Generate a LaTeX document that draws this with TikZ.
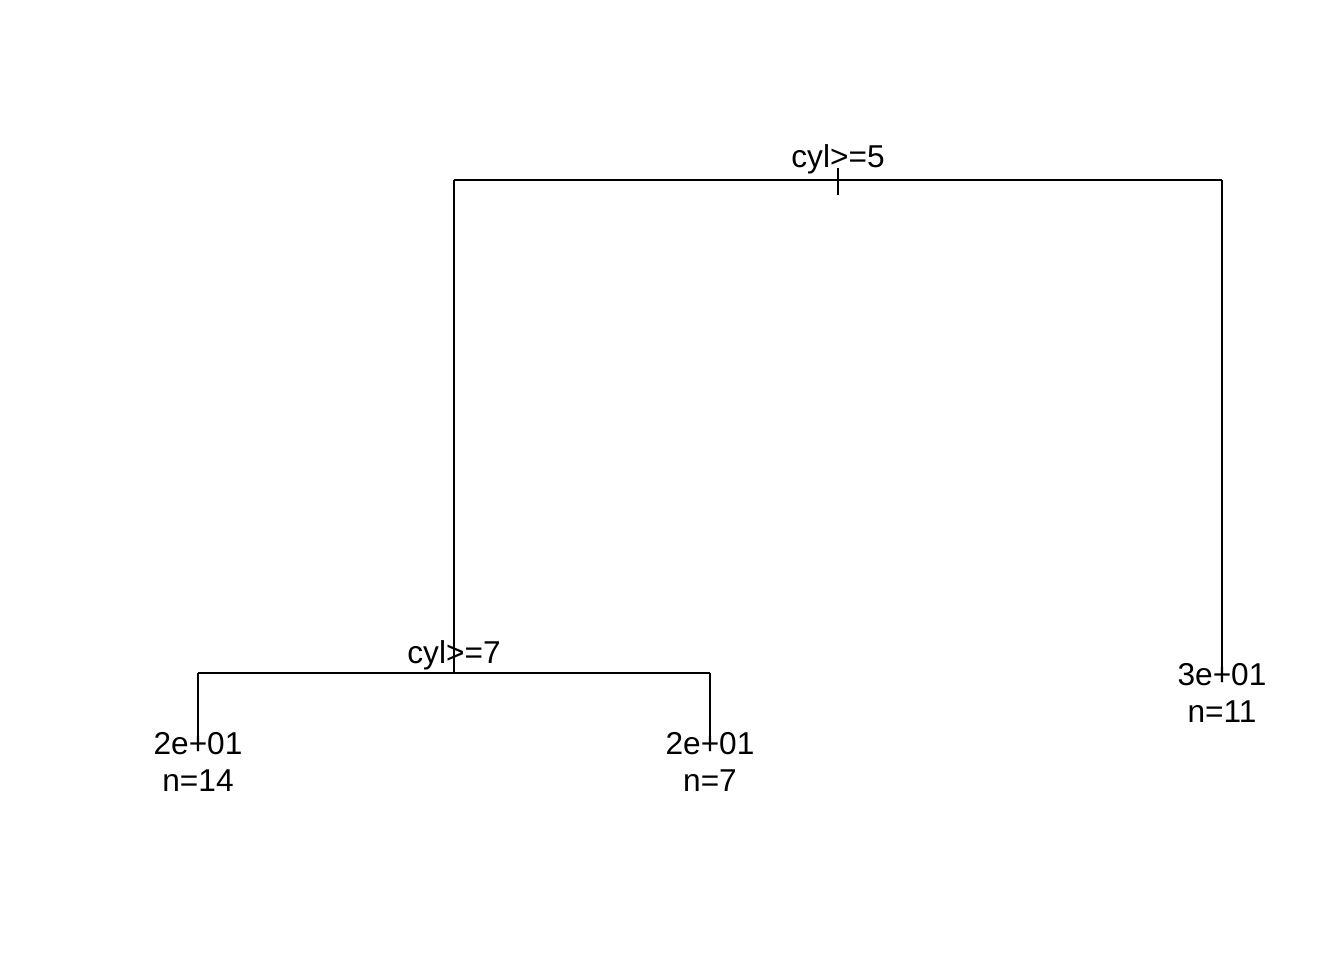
\documentclass[tikz,border=0pt]{standalone}
\usepackage{fontspec}
\setmainfont{Liberation Sans}
\usepackage{tikz}
\usetikzlibrary{positioning}

\begin{document}
\begin{tikzpicture}[
    x=0.02cm, y=-0.02cm,
    split/.style={inner sep=0pt, anchor=base, font=\fontsize{18}{21}\selectfont},
    leaf/.style={inner sep=0pt, anchor=north, align=center, font=\fontsize{18}{21}\selectfont},
    branch/.style={draw, line width=0.8pt}
]
    \useasboundingbox (0,0) rectangle (1344,960);

    % split points and leaf ends
    \coordinate (root) at (838,180);
    \coordinate (rootL) at (454,180);
    \coordinate (rootR) at (1222,180);
    \coordinate (cyl7) at (454,673);
    \coordinate (cyl7L) at (198,673);
    \coordinate (cyl7R) at (710,673);
    \coordinate (leafA) at (198,744);
    \coordinate (leafB) at (710,744);
    \coordinate (leafC) at (1222,675);

    \node[split] (lab5) at (838,167) {cyl>=5};
    \node[split] (lab7) at (454,663) {cyl>=7};
    \node[leaf] (nA) at (198,732) {2e+01\\n=14};
    \node[leaf] (nB) at (710,732) {2e+01\\n=7};
    \node[leaf] (nC) at (1222,663) {3e+01\\n=11};

    \path[branch] (rootL) -- (rootR);
    \path[branch] (root) -- ++(0,-12) -- ++(0,27);
    \path[branch] (rootL) -- (cyl7);
    \path[branch] (rootR) -- (leafC);
    \path[branch] (cyl7L) -- (cyl7R);
    \path[branch] (cyl7L) -- (leafA);
    \path[branch] (cyl7R) -- (leafB);
\end{tikzpicture}
\end{document}
